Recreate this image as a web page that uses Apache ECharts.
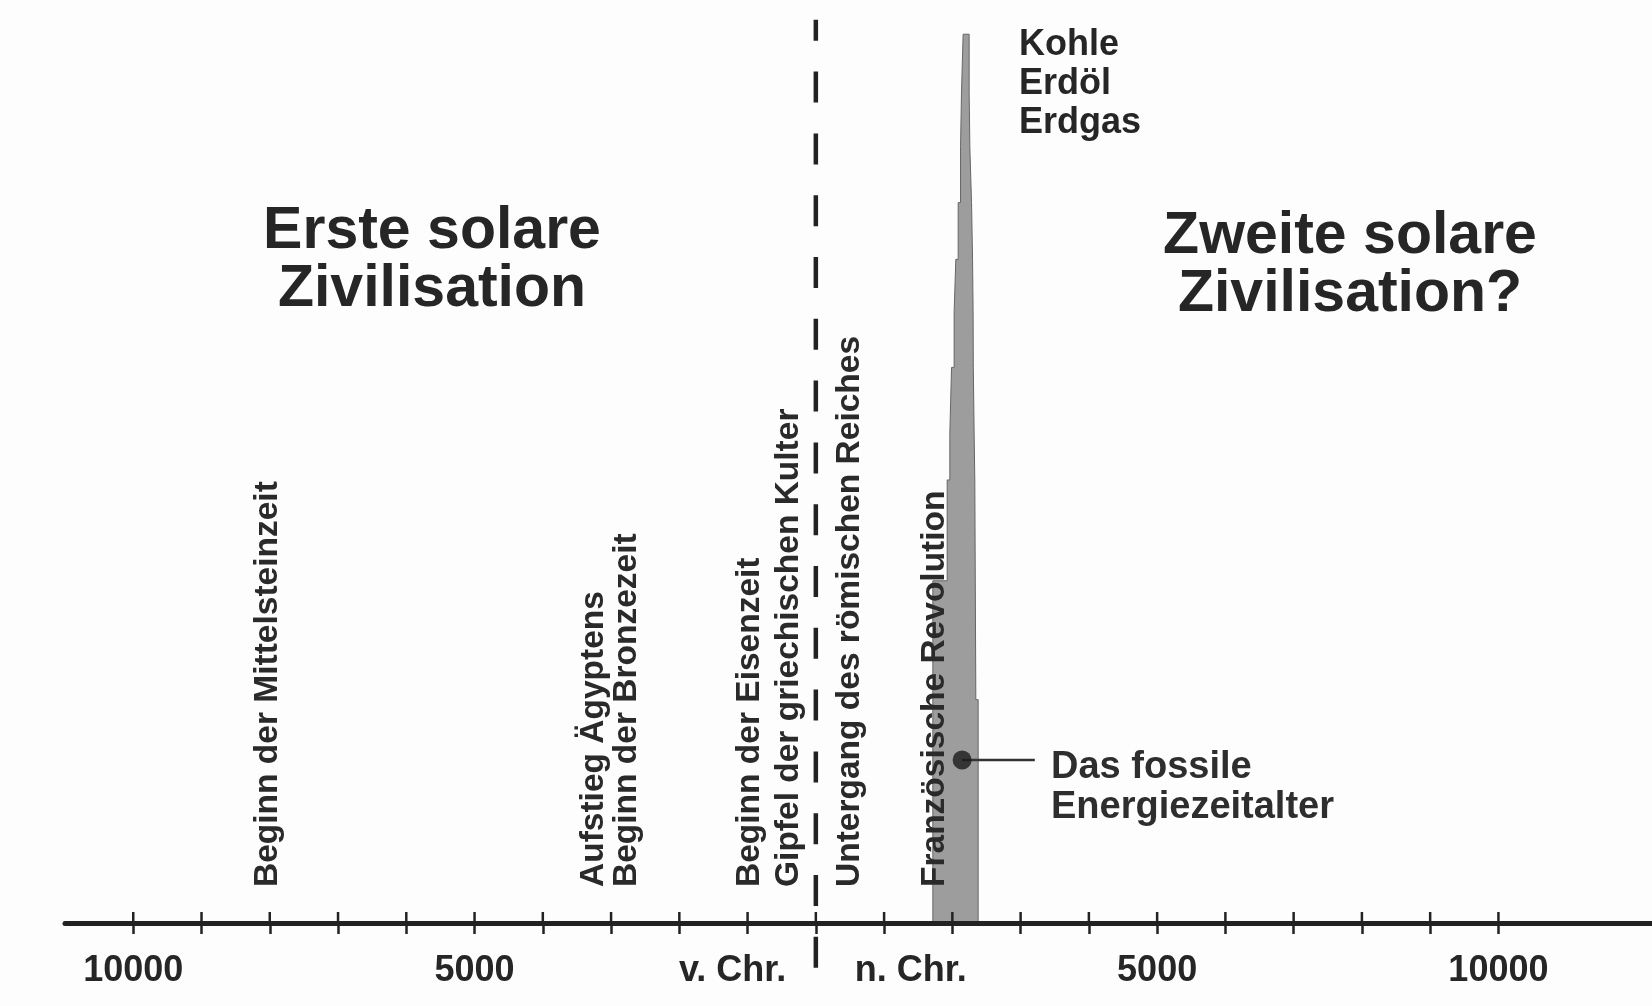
<!DOCTYPE html>
<html><head><meta charset="utf-8">
<script src="https://cdn.jsdelivr.net/npm/echarts@6/dist/echarts.min.js"></script>
<style>html,body{margin:0;padding:0;background:#fdfdfd}#c{width:1652px;height:1006px}</style>
</head><body><div id="c"></div>
<script>
// ---- data ----
const tickYears = [-10000,-9000,-8000,-7000,-6000,-5000,-4000,-3000,-2000,-1000,0,1000,2000,3000,4000,5000,6000,7000,8000,9000,10000];
const axisLabelYears = [-10000, -5000, -1220, 1390, 5000, 10000];
const axisLabelTexts = ['10000', '5000', 'v. Chr.', 'n. Chr.', '5000', '10000'];
const eventYears = [-8030, -3250, -2770, -970, -400, 500, 1740];
const eventTexts = ['Beginn der Mittelsteinzeit', 'Aufstieg Ägyptens', 'Beginn der Bronzezeit', 'Beginn der Eisenzeit', 'Gipfel der griechischen Kulter', 'Untergang des römischen Reiches', 'Französische Revolution'];
const eventBase = 4;
const fossilYears  = [1714,1714,1924,1924,1963,1963,1988,1988,2026,2026,2051,2051,2085,2085,2120,2120,2134,2134,2158,2158,2246,2246,2256,2256,2281,2281,2296,2296,2304,2304,2307,2307,2319,2319,2329,2329,2344,2344,2378,2378];
const fossilValues = [0,38,38,49.2,49.2,54.4,54.4,61.7,61.7,67.9,67.9,73.7,73.7,80,80,86.2,86.2,92.3,92.3,98.7,98.7,92.3,92.3,86.2,86.2,80,80,73.7,73.7,67.9,67.9,61.7,61.7,54.4,54.4,49.2,49.2,24.8,24.8,0];
const markerYear = 2143, markerValue = 18.1, leaderEndYear = 3208;
const dividerYear = 0, dividerTop = 100.3, dividerBottom = -5;

const FONT = '"Liberation Sans", Arial, Helvetica, sans-serif';
const INK = '#262626';

const chart = echarts.init(document.getElementById('c'), null, {renderer: 'canvas'});
chart.setOption({
  animation: false,
  backgroundColor: '#fdfdfd',
  grid: {left: 65, right: 0, top: 18, bottom: 83, containLabel: false, outerBoundsMode: 'none'},
  xAxis: {
    type: 'value', min: -11000, max: 12250, interval: 1000,
    splitLine: {show: false}, z: 5,
    axisLine: {onZero: true, lineStyle: {color: '#222', width: 5}},
    axisTick: {customValues: tickYears, length: 11, lineStyle: {color: '#222', width: 2.5}},
    axisLabel: {
      customValues: axisLabelYears, margin: 30,
      formatter: v => { const i = axisLabelYears.indexOf(v); return i >= 0 ? axisLabelTexts[i] : ''; },
      fontSize: 36, fontWeight: 'bold', fontFamily: FONT, color: INK
    }
  },
  yAxis: {type: 'value', min: 0, max: 100.5, show: false, splitLine: {show: false}},
  graphic: [
    {type: 'text', x: 432, y: 261, style: {text: 'Erste solare\nZivilisation', font: 'bold 59px ' + FONT, fill: INK, align: 'center', verticalAlign: 'middle', lineHeight: 58}},
    {type: 'text', x: 1350, y: 266, style: {text: 'Zweite solare\nZivilisation?', font: 'bold 59px ' + FONT, fill: INK, align: 'center', verticalAlign: 'middle', lineHeight: 58}},
    {type: 'text', x: 1019, y: 26, style: {text: 'Kohle\nErdöl\nErdgas', font: 'bold 36px ' + FONT, fill: INK, align: 'left', verticalAlign: 'top', lineHeight: 39}},
    {type: 'text', x: 1051, y: 748, style: {text: 'Das fossile\nEnergiezeitalter', font: 'bold 38px ' + FONT, fill: '#2e2e2e', align: 'left', verticalAlign: 'top', lineHeight: 40}}
  ],
  series: [
    {
      type: 'line', name: 'fossil',
      data: fossilYears.map((y, i) => [y, fossilValues[i]]),
      symbol: 'none', lineStyle: {color: '#666', width: 1},
      areaStyle: {color: '#9d9d9d', opacity: 1}, z: 2
    },
    {
      type: 'custom', name: 'upperTicks',
      data: tickYears.map(y => [y, 0]),
      renderItem: (params, api) => {
        const p = api.coord([api.value(0), api.value(1)]);
        return {type: 'line', shape: {x1: p[0], y1: p[1], x2: p[0], y2: p[1] - 11},
          style: {stroke: '#222', lineWidth: 2.5}};
      }, z: 6, silent: true
    },
    {
      type: 'custom', name: 'events',
      data: eventYears.map(y => [y, eventBase]),
      renderItem: (params, api) => {
        const p = api.coord([api.value(0), api.value(1)]);
        return {type: 'text', x: p[0], y: p[1], rotation: Math.PI / 2,
          style: {text: eventTexts[params.dataIndex], font: 'bold 33.5px ' + FONT, fill: '#2a2a2a', align: 'left', verticalAlign: 'middle'}};
      }, z: 3
    },
    {
      type: 'line', name: 'divider', clip: false,
      data: [[dividerYear, dividerTop], [dividerYear, dividerBottom]],
      symbol: 'none', lineStyle: {color: '#222', width: 4.5, type: [31, 30.8], dashOffset: 10}, z: 4
    },
    {
      type: 'line', name: 'leader',
      data: [[markerYear, markerValue], [leaderEndYear, markerValue]],
      symbol: 'none', lineStyle: {color: '#333', width: 2.5}, z: 4
    },
    {
      type: 'scatter', name: 'marker',
      data: [[markerYear, markerValue]], symbolSize: 19,
      itemStyle: {color: '#1c1c1c'}, z: 6
    }
  ]
});
</script></body></html>
